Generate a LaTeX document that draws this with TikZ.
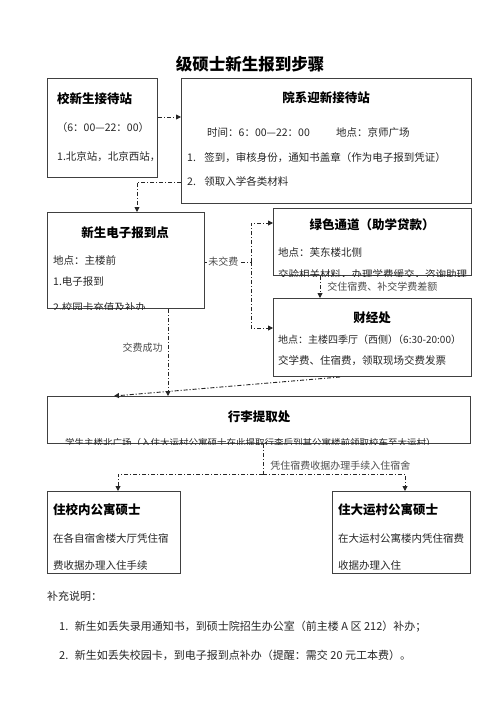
\documentclass[tikz,border=0pt]{standalone}
\usepackage{fontspec}
\setmainfont{Noto Sans CJK SC}
\usetikzlibrary{arrows.meta, positioning, calc}
\tikzset{
  box/.style={draw=black!75, rectangle, line width=1pt, anchor=north west, inner sep=0pt},
  hdr/.style={font=\fontsize{12.5}{14}\selectfont\bfseries, inner sep=0pt},
  txt/.style={font=\fontsize{10.5}{12}\selectfont, anchor=west, inner sep=0pt, text=black!85},
  note/.style={font=\fontsize{11}{13}\selectfont, anchor=west, inner sep=0pt, text=black!85},
  lbl/.style={font=\fontsize{10}{12}\selectfont, inner sep=1pt, text=black!70},
  dashdot/.style={draw=black!85, line width=0.9pt, dash pattern=on 4pt off 2pt on 1pt off 2pt},
  arrow/.style={dashdot, -{Triangle[width=5pt,length=5pt]}}
}

\begin{document}
\begin{tikzpicture}[x=1pt, y=-1pt]
\useasboundingbox[fill=white] (0,0) rectangle (500,707);

\node[font=\fontsize{16.5}{18}\selectfont\bfseries] (title) at (250,64) {级硕士新生报到步骤};

% boxes
\node[box, minimum width=110pt, minimum height=99pt] (recep) at (47,78) {};
\node[box, minimum width=290pt, minimum height=125pt] (dept) at (181,78) {};
\node[box, minimum width=157pt, minimum height=96pt] (ereg) at (47,212) {};
\node[box, minimum width=198pt, minimum height=67pt] (green) at (273,208) {};
\node[box, minimum width=198pt, minimum height=78pt] (finance) at (273,298) {};
\node[box, minimum width=423pt, minimum height=47pt] (luggage) at (47,396) {};
\node[box, minimum width=133pt, minimum height=82pt] (campus) at (47,491) {};
\node[box, minimum width=138pt, minimum height=82pt] (village) at (332,491) {};

% texts in boxes
\node[hdr, anchor=west] (recep-h) at (57,99) {校新生接待站};
\node[txt, anchor=center] (recep-t) at (103,128) {（6：00—22：00）};
\node[txt] (recep-1) at (57,157) {1.北京站，北京西站，};

\node[hdr] (dept-h) at (326,98) {院系迎新接待站};
\node[txt] (dept-t) at (207,133) {时间：6：00—22：00\hspace{2.5em}地点：京师广场};
\node[txt] (dept-1) at (187,158) {1.\hspace{0.8em}签到，审核身份，通知书盖章（作为电子报到凭证）};
\node[txt] (dept-2) at (187,181) {2.\hspace{0.8em}领取入学各类材料};

\node[hdr] (ereg-h) at (125,233) {新生电子报到点};
\node[txt] (ereg-t) at (53,260) {地点：主楼前};
\node[txt] (ereg-1) at (53,282) {1.电子报到};
\begin{scope}
  \clip (ereg.south west) rectangle (ereg.north east);
  \node[txt] (ereg-2) at (53,307) {2.校园卡充值及补办};
\end{scope}

\node[hdr] (green-h) at (372,225) {绿色通道（助学贷款）};
\node[txt] (green-t) at (278,252) {地点：芙东楼北侧};
\begin{scope}
  \clip (green.south west) rectangle (green.north east);
  \node[txt] (green-1) at (278,275) {交验相关材料，办理学费缓交，咨询助理};
\end{scope}

\node[hdr] (finance-h) at (372,318) {财经处};
\node[txt, font=\fontsize{10}{12}\selectfont] (finance-t) at (278,340) {地点：主楼四季厅（西侧）\kern-0.5em（6:30-20:00）};
\node[txt] (finance-1) at (278,361) {交学费、住宿费，领取现场交费发票};

\node[hdr] (luggage-h) at (259,417) {行李提取处};
\begin{scope}
  \clip (luggage.south west) rectangle (luggage.north east);
  \node[txt, font=\fontsize{9.5}{11}\selectfont] (luggage-1) at (65,443) {学生主楼北广场（入住大运村公寓硕士在此提取行李后到其公寓楼前领取校车至大运村）};
\end{scope}

\node[hdr, anchor=west] (campus-h) at (53,510) {住校内公寓硕士};
\node[txt] (campus-1) at (53,538) {在各自宿舍楼大厅凭住宿};
\node[txt] (campus-2) at (53,566) {费收据办理入住手续};

\node[hdr, anchor=west] (village-h) at (338,510) {住大运村公寓硕士};
\node[txt] (village-1) at (338,538) {在大运村公寓楼内凭住宿费};
\node[txt] (village-2) at (338,566) {收据办理入住};

% connectors
\draw[arrow] ($(recep.north east)+(0,39)$) -- ($(dept.north west)+(0,39)$);
\draw[arrow] ($(dept.south west)+(0,-22)$) -| ($(ereg.north west)+(90,0)$);

\coordinate (fork) at ($(ereg.north east)+(46,50)$);
\draw[dashdot] ($(ereg.north east)+(0,50)$) -- node[lbl, fill=white, pos=0.4] {未交费} (fork);
\draw[arrow] (fork) |- ($(green.north west)+(0,15)$);
\draw[arrow] (fork) |- ($(finance.north west)+(0,30)$);

\draw[arrow] ($(green.south west)+(47,0)$) -- node[lbl, right=6pt] {交住宿费、补交学费差额} ($(finance.north west)+(47,0)$);
\draw[arrow] ($(ereg.south west)+(121,0)$) -- node[lbl, left=4pt, pos=0.44] {交费成功} ($(luggage.north west)+(121,0)$);
\draw[arrow] ($(finance.south west)+(67,0)$) -- ($(luggage.north west)+(67,0)$);

\coordinate (split) at ($(luggage.south west)+(216,30)$);
\draw[dashdot] ($(luggage.south west)+(216,0)$) -- node[lbl, right=6pt, pos=0.73] {凭住宿费收据办理手续入住宿舍} (split);
\draw[arrow] (split) -| ($(campus.north west)+(71,0)$);
\draw[arrow] (split) -| ($(village.north west)+(73,0)$);

% notes
\node[note] (notes) at (47,596) {补充说明：};
\node[note] (note-1) at (59,627) {1.\hspace{0.6em}新生如丢失录用通知书，到硕士院招生办公室（前主楼 A 区 212）补办；};
\node[note] (note-2) at (59,655) {2.\hspace{0.6em}新生如丢失校园卡，到电子报到点补办（提醒：需交 20 元工本费）。};

\end{tikzpicture}
\end{document}
